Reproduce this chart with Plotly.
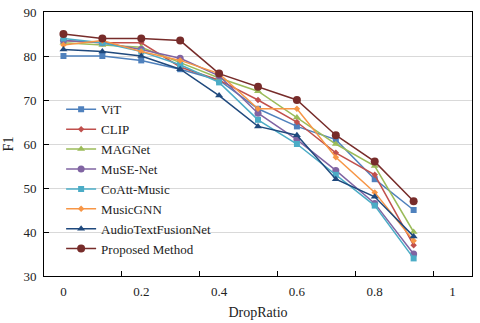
import plotly.graph_objects as go

drop_ratio = [0, 0.1, 0.2, 0.3, 0.4, 0.5, 0.6, 0.7, 0.8, 0.9]

vit = [80, 80, 79, 77, 74.5, 68, 64, 61, 52, 45]
clip = [83.5, 83, 83, 77.5, 74.5, 70, 65, 58, 53, 37]
magnet = [83, 82.5, 82, 78.5, 75, 72, 66, 60, 55, 40]
muse_net = [83.5, 83, 81.5, 79.5, 75.5, 67, 61, 54, 46.5, 35]
coatt_music = [84, 83, 81, 78, 74, 65.5, 60, 53, 46, 34]
music_gnn = [82.5, 83.5, 81, 79, 76, 68, 68, 57, 49, 38]
audio_text = [81.5, 81, 80, 77, 71, 64, 62, 52, 48, 39]
proposed = [85, 84, 84, 83.5, 76, 73, 70, 62, 56, 47]

series_names = ["ViT", "CLIP", "MAGNet", "MuSE-Net", "CoAtt-Music",
                "MusicGNN", "AudioTextFusionNet", "Proposed Method"]
series_values = [vit, clip, magnet, muse_net, coatt_music, music_gnn, audio_text, proposed]

x_tick_vals = [0, 0.2, 0.4, 0.6, 0.8, 1]
x_tick_text = ["0", "0.2", "0.4", "0.6", "0.8", "1"]
x_minor_marks = [0.15, 0.35, 0.55, 0.75, 0.95]
y_tick_vals = [30, 40, 50, 60, 70, 80, 90]

colors = ["#4F81BD", "#C0504D", "#9BBB59", "#8064A2", "#4BACC6", "#F79646", "#1F497D", "#772C2A"]
symbols = ["square", "diamond", "triangle-up", "circle", "square", "diamond", "triangle-up", "circle"]
sizes = [6, 5, 7, 7, 6, 5, 7, 8]

FONT = "Liberation Serif"

fig = go.Figure()
for name, vals, c, s, sz in zip(series_names, series_values, colors, symbols, sizes):
    fig.add_trace(go.Scatter(
        x=drop_ratio, y=vals, name=name, mode="lines+markers",
        line=dict(color=c, width=1.5),
        marker=dict(symbol=s, size=sz, color=c),
    ))

# invisible trace to carry the secondary x axis for tick marks
fig.add_trace(go.Scatter(x=[None], y=[None], xaxis="x2", showlegend=False, hoverinfo="skip"))

fig.update_layout(
    width=480, height=323,
    margin=dict(l=44, r=8, t=12, b=47),
    paper_bgcolor="white", plot_bgcolor="white",
    font=dict(family=FONT, size=13, color="#222"),
    showlegend=True,
    legend=dict(
        x=0.04, y=0.688, xanchor="left", yanchor="top",
        bgcolor="rgba(0,0,0,0)", font=dict(family=FONT, size=13, color="#222"),
        itemwidth=30,
    ),
    xaxis=dict(
        range=[-0.05, 1.05], tickvals=x_tick_vals, ticktext=x_tick_text,
        ticks="", showgrid=False, zeroline=False, automargin=False,
        showline=True, linecolor="black", linewidth=1, mirror=True,
        ticklabelstandoff=3,
        title=dict(text="DropRatio", font=dict(family=FONT, size=14), standoff=9),
        tickfont=dict(family=FONT, size=13),
    ),
    xaxis2=dict(
        range=[-0.05, 1.05], overlaying="x", anchor="y", side="bottom",
        tickvals=x_minor_marks, ticks="inside", ticklen=5, tickcolor="black",
        showticklabels=False, showgrid=False, zeroline=False, showline=False,
        automargin=False,
    ),
    yaxis=dict(
        range=[30, 90], tickvals=y_tick_vals, automargin=False,
        ticks="inside", ticklen=5, tickcolor="black",
        ticklabelstandoff=4,
        showgrid=True, gridcolor="#D9D9D9", gridwidth=1, zeroline=False,
        showline=True, linecolor="black", linewidth=1, mirror=True,
        title=dict(text="F1", font=dict(family=FONT, size=14), standoff=6),
        tickfont=dict(family=FONT, size=13),
    ),
)

fig.write_html("out.html", config={"displayModeBar": False},
               post_script="document.body.style.margin='0';")
